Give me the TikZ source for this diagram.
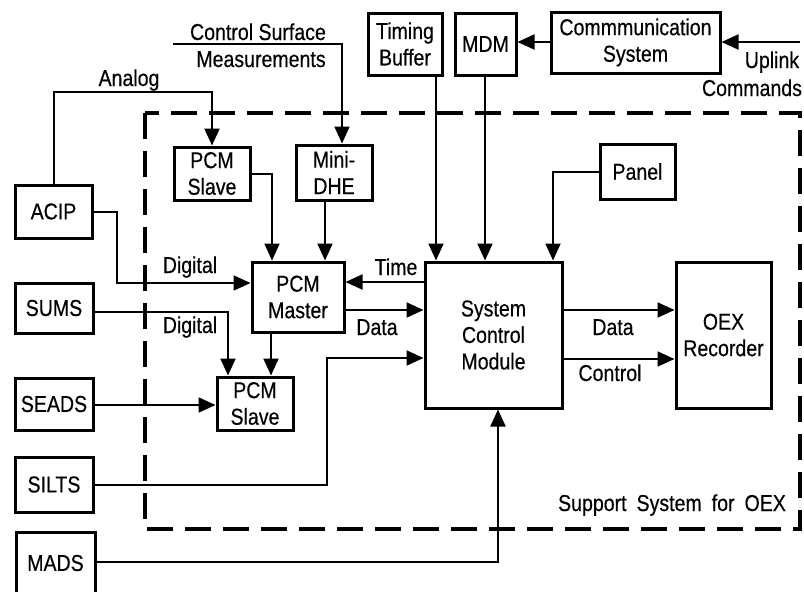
\documentclass[tikz,border=0pt]{standalone}
\usepackage{fontspec}
\setmainfont{Liberation Sans}[FakeStretch=0.85,FakeBold=0.4]
\usetikzlibrary{arrows.meta,calc}
\begin{document}
\begin{tikzpicture}[x=1pt,y=-1pt,
  font=\fontsize{23}{26.5}\selectfont,
  line join=miter,
  box/.style={draw, line width=3pt, align=center, inner sep=0pt},
  arr/.style={line width=2pt, -{Triangle[length=17pt,width=15pt]}},
  lbl/.style={inner sep=0pt, anchor=base}]
\useasboundingbox (0,0) rectangle (804,592);
% support system frame
\draw[line width=3.5pt, dash pattern=on 26pt off 12pt] (145,113) rectangle (800,529);
% boxes
\node[box, minimum width=77pt, minimum height=53pt] (ACIP) at (53.5,211.5) {ACIP};
\node[box, minimum width=78pt, minimum height=50pt] (SUMS) at (54,308) {SUMS};
\node[box, minimum width=78pt, minimum height=52pt] (SEADS) at (54,404) {SEADS};
\node[box, minimum width=78pt, minimum height=55pt] (SILTS) at (54,484.5) {SILTS};
\node[box, minimum width=79pt, minimum height=62pt] (MADS) at (55.5,563) {MADS};
\node[box, minimum width=76pt, minimum height=53pt] (S1) at (212,173.5) {PCM\\Slave};
\node[box, minimum width=76pt, minimum height=55pt] (DHE) at (334,172.5) {Mini-\\DHE};
\node[box, minimum width=92pt, minimum height=70pt] (PM) at (298,297) {PCM\\Master};
\node[box, minimum width=76pt, minimum height=53pt] (S2) at (255,403.5) {PCM\\Slave};
\node[box, minimum width=74pt, minimum height=62pt] (TB) at (405,44) {Timing\\Buffer};
\node[box, minimum width=61pt, minimum height=62pt] (MDM) at (485.5,44) {MDM};
\node[box, minimum width=169pt, minimum height=61pt] (COM) at (635.5,42.5) {Commmunication\\System};
\node[box, minimum width=75pt, minimum height=55pt] (Panel) at (637.5,171.5) {Panel};
\node[box, minimum width=137pt, minimum height=146pt] (SCM) at (493.5,335) {System\\Control\\Module};
\node[box, minimum width=95pt, minimum height=146pt] (OEX) at (723.5,335) {OEX\\Recorder};
% free ends
\coordinate (cs) at (173,44);
\coordinate (up) at (800,42);
% connectors
\draw[arr] (ACIP.north) |- (150,92) -| (S1.north);
\draw[arr] (cs) -| ($(DHE.north)+(8,0)$);
\draw[arr] (S1.east) -| ($(PM.north)+(-26,0)$);
\draw[arr] ($(DHE.south)+(-9,0)$) -- ($(PM.north)+(27,0)$);
\draw[arr] (ACIP.east) -| (117,250) |- ($(PM.west)+(0,-14)$);
\draw[arr] (SCM.west |- 0,282) -- (PM.east |- 0,282);
\draw[arr] (PM.east |- 0,310) -- (SCM.west |- 0,310);
\draw[arr] (SUMS.east |- 0,312) -| (S2.north -| 228,0);
\draw[arr] (PM.south -| 271,0) -- (S2.north -| 271,0);
\draw[arr] (SEADS.east |- 0,405) -- (S2.west |- 0,405);
\draw[arr] (SILTS.east |- 0,485) -| (327,400) |- (SCM.west |- 0,358);
\draw[arr] (MADS.east |- 0,562) -| (SCM.south -| 498,0);
\draw[arr] (TB.south -| 436,0) -- (SCM.north -| 436,0);
\draw[arr] (MDM.south -| 485,0) -- (SCM.north -| 485,0);
\draw[arr] (Panel.west) -| (SCM.north -| 553,0);
\draw[arr] (SCM.east |- 0,310) -- (OEX.west |- 0,310);
\draw[arr] (SCM.east |- 0,359) -- (OEX.west |- 0,359);
\draw[arr] (COM.west |- 0,42) -- (MDM.east |- 0,42);
\draw[arr] (up) -- (COM.east |- up);
% labels
\node[lbl] at (129,86) {Analog};
\node[lbl] at (258,40) {Control Surface};
\node[lbl] at (261,67) {Measurements};
\node[lbl] at (190,273) {Digital};
\node[lbl] at (190,333) {Digital};
\node[lbl] at (396,275) {Time};
\node[lbl] at (377,335) {Data};
\node[lbl] at (613,335) {Data};
\node[lbl] at (610,381) {Control};
\node[lbl] at (672,511) {Support\hspace{10pt}System\hspace{10pt}for\hspace{10pt}OEX};
\node[lbl] at (772,68) {Uplink};
\node[lbl] at (752,96) {Commands};
\end{tikzpicture}
\end{document}
